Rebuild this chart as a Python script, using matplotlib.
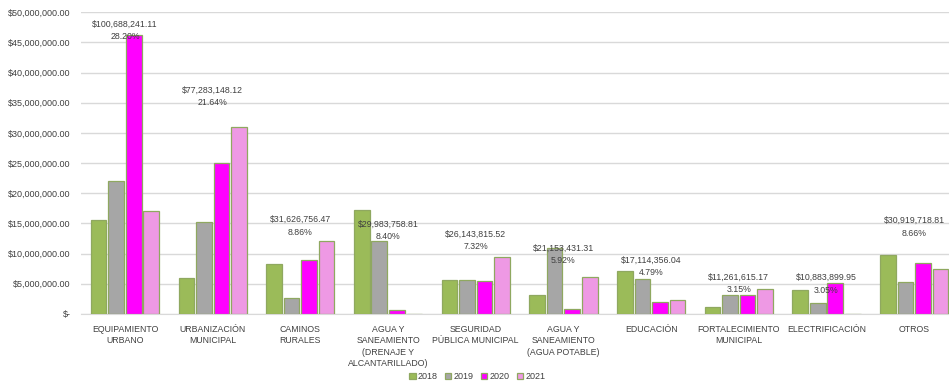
import numpy as np
import matplotlib.pyplot as plt
from matplotlib.ticker import FuncFormatter

plt.rcParams['font.family'] = ['Liberation Sans', 'DejaVu Sans']

categorias = ['EQUIPAMIENTO\nURBANO', 'URBANIZACIÓN\nMUNICIPAL', 'CAMINOS\nRURALES',
              'AGUA Y\nSANEAMIENTO\n(DRENAJE Y\nALCANTARILLADO)', 'SEGURIDAD\nPÚBLICA MUNICIPAL',
              'AGUA Y\nSANEAMIENTO\n(AGUA POTABLE)', 'EDUCACIÓN', 'FORTALECIMIENTO\nMUNICIPAL',
              'ELECTRIFICACIÓN', 'OTROS']
anios = ['2018', '2019', '2020', '2021']

# montos en millones
v2018 = [15.5, 6.0, 8.2, 17.3, 5.65, 3.2, 7.14, 1.05, 4.0, 9.7]
v2019 = [22.0, 15.2, 2.56, 12.1, 5.65, 10.95, 5.71, 3.08, 1.75, 5.3]
v2020 = [46.2, 25.0, 8.87, 0.58, 5.4, 0.85, 1.89, 3.08, 5.13, 8.42]
v2021 = [17.0, 31.06, 12.0, 0, 9.45, 6.15, 2.33, 4.05, 0, 7.5]

totales = ['$100,688,241.11', '$77,283,148.12', '$31,626,756.47', '$29,983,758.81',
           '$26,143,815.52', '$21,153,431.31', '$17,114,356.04', '$11,261,615.17',
           '$10,883,899.95', '$30,919,718.81']
porcentajes = ['28.20%', '21.64%', '8.86%', '8.40%', '7.32%', '5.92%', '4.79%',
               '3.15%', '3.05%', '8.66%']
pos_etiqueta = [47.0, 36.1, 14.6, 13.85, 12.16, 9.83, 7.87, 5.1, 4.98, 14.4]

colores = ['#9BBB59', '#A6A6A6', '#FF00FF', '#EE99E4']

fig = plt.figure(figsize=(9.49, 3.86), dpi=100)
ax = fig.add_axes([0.0855, 0.187, 0.924, 0.781])

x = np.arange(len(categorias))
series = [v2018, v2019, v2020, v2021]
for i, (vals, c) in enumerate(zip(series, colores)):
    vals = np.array(vals) * 1e6
    ax.bar(x + (i - 1.5) * 0.2, vals, 0.178, color=c, edgecolor='#8FA860',
           linewidth=0.9, label=anios[i], zorder=3)

for xi, t, p, y in zip(x, totales, porcentajes, pos_etiqueta):
    ax.text(xi, y * 1e6, t + '\n' + p, ha='center', va='center', fontsize=6.3,
            color='#404040', linespacing=1.5, zorder=5)

ax.set_ylim(0, 50e6)
ax.set_xlim(-0.5, len(categorias) - 0.5)
ax.set_yticks(np.arange(0, 50e6 + 1, 5e6))
ax.yaxis.set_major_formatter(FuncFormatter(lambda v, _: '$-' if v == 0 else '${:,.2f}'.format(v)))
ax.set_xticks(x)
ax.set_xticklabels(categorias, fontsize=6.3, color='#404040', linespacing=1.35, va='top')
ax.tick_params(axis='y', labelsize=6.5, labelcolor='#404040', length=0, pad=7.5)
ax.tick_params(axis='x', length=0, pad=8)
ax.grid(axis='y', color='#D9D9D9', linewidth=1, zorder=0)
for s in ['top', 'right', 'left']:
    ax.spines[s].set_visible(False)
ax.spines['bottom'].set_color('#D9D9D9')

ax.legend(loc='center', bbox_to_anchor=(0.503, 0.024), bbox_transform=fig.transFigure, ncol=4,
          frameon=False, fontsize=6.5, handlelength=0.7, handleheight=0.7,
          handletextpad=0.25, columnspacing=0.8, labelcolor='#404040')

fig.savefig('out.png', dpi=100)
